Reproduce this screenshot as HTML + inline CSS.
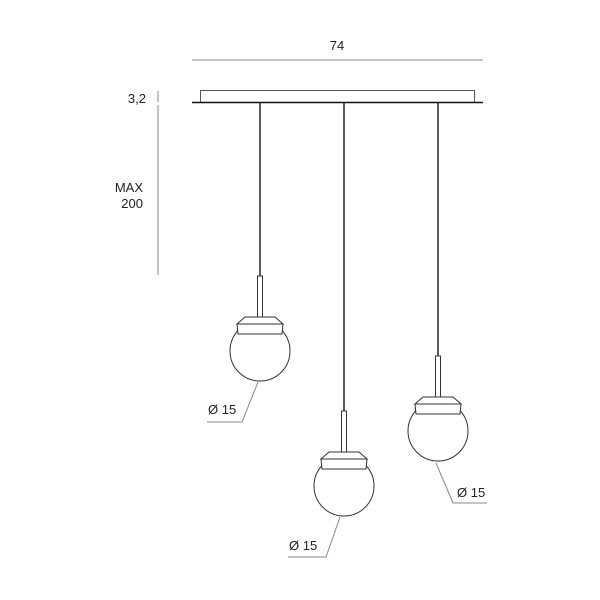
<!DOCTYPE html>
<html><head><style>body{margin:0;background:#fff}svg{display:block}</style></head>
<body>
<svg width="600" height="600" viewBox="0 0 600 600" xmlns="http://www.w3.org/2000/svg" font-family="Liberation Sans, sans-serif">
<defs>
<g id="p" fill="#fff" stroke="#333" stroke-width="1">
 <rect x="-2.5" y="-41" width="5" height="41"/>
 <circle cx="0" cy="34" r="30"/>
 <path d="M-15,0 L15,0 L23,7 L-23,7 Z"/>
 <path d="M-23,7 L23,7 L22,17 L-22,17 Z"/>
</g>
</defs>
<g stroke="#888" stroke-width="1" fill="none">
 <line x1="192" y1="60" x2="483" y2="60"/>
 <line x1="158" y1="91" x2="158" y2="102"/>
 <line x1="158" y1="105" x2="158" y2="275"/>
 <polyline points="258,382 242,422 207,422"/>
 <polyline points="340,517 326,557 288,557"/>
 <polyline points="436,463 453,503 487,503"/>
</g>
<rect x="200.5" y="90.5" width="274" height="12" fill="#fff" stroke="#555"/>
<line x1="192" y1="102.5" x2="483" y2="102.5" stroke="#111" stroke-width="1.5"/>
<g stroke="#222" stroke-width="1.5">
 <line x1="260" y1="102" x2="260" y2="276"/>
 <line x1="344" y1="102" x2="344" y2="411"/>
 <line x1="438" y1="102" x2="438" y2="356"/>
</g>
<use href="#p" x="260" y="317"/>
<use href="#p" x="344" y="452"/>
<use href="#p" x="438" y="397"/>
<g font-size="13" fill="#222">
 <text x="337" y="50" text-anchor="middle">74</text>
 <text x="146" y="103" text-anchor="end">3,2</text>
 <text x="143" y="192" text-anchor="end">MAX</text>
 <text x="143" y="208" text-anchor="end">200</text>
 <text x="208" y="414">Ø 15</text>
 <text x="289" y="550">Ø 15</text>
 <text x="457" y="497">Ø 15</text>
</g>
</svg>
</body></html>
